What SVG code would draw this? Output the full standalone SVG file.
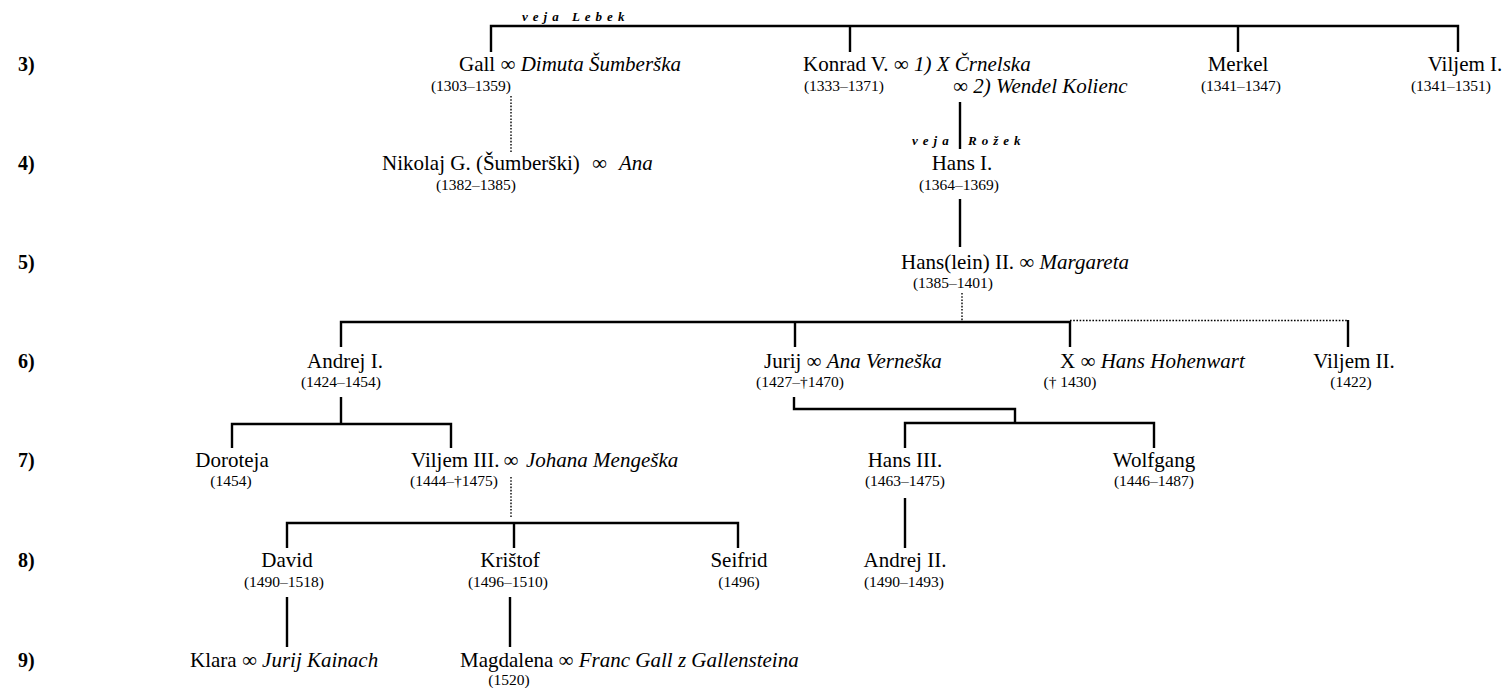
<svg xmlns="http://www.w3.org/2000/svg" width="1509" height="688" viewBox="0 0 1509 688">
<style>
text{font-family:"Liberation Serif","Times New Roman",serif;fill:#000}
.n{font-size:21px}
.i{font-style:italic}
.d{font-size:15.5px;text-anchor:middle}
.c{text-anchor:middle}
.lbl{font-size:20px;font-weight:bold}
.v{font-size:13px;font-weight:bold;font-style:italic;letter-spacing:5px}
.s{stroke:#000;stroke-width:2.4;fill:none}
.o{stroke:#000;stroke-width:1.4;fill:none;stroke-dasharray:1.6 1.6}
</style>
<rect width="1509" height="688" fill="#fff"/>
<g id="levels">
<text class="lbl" x="18" y="71">3)</text>
<text class="lbl" x="18" y="170">4)</text>
<text class="lbl" x="18" y="269">5)</text>
<text class="lbl" x="18" y="368">6)</text>
<text class="lbl" x="18" y="467">7)</text>
<text class="lbl" x="18" y="567">8)</text>
<text class="lbl" x="18" y="667">9)</text>
</g>
<g id="connectors">
<path class="s" d="M491,52V26H1458V52M850,26V52M1238,26V52"/>
<path class="o" d="M511,96V152"/>
<path class="s" d="M960,102V149"/>
<path class="s" d="M960,199V247"/>
<path class="o" d="M962,293V321"/>
<path class="s" d="M341,347V322H1070V347M795,322V347"/>
<path class="o" d="M1070,320.5H1348"/>
<path class="s" d="M1348,320V347"/>
<path class="s" d="M341,397V424M232,448V424H451V448"/>
<path class="s" d="M794,397V409H1015V423M905,448V423H1154V448"/>
<path class="o" d="M511,477V518"/>
<path class="s" d="M287,548V523H738V548M514,523V548"/>
<path class="s" d="M905,498V548"/>
<path class="s" d="M287,597V647M510,597V647"/>
<text class="v" x="522" y="21">veja Lebek</text>
<text class="v" x="912" y="145">veja</text>
<text class="v" x="968" y="145">Rožek</text>
</g>
<g id="gall">
<text class="n" x="459" y="71">Gall ∞ <tspan class="i">Dimuta Šumberška</tspan></text>
<text class="d" x="471" y="91">(1303–1359)</text>
</g>
<g id="konrad">
<text class="n" x="803" y="71">Konrad V. ∞ <tspan class="i">1) X Črnelska</tspan></text>
<text class="d" x="844" y="91">(1333–1371)</text>
<text class="n" x="953" y="93">∞ <tspan class="i">2) Wendel Kolienc</tspan></text>
</g>
<g id="merkel">
<text class="n c" x="1238" y="71">Merkel</text>
<text class="d" x="1241" y="91">(1341–1347)</text>
</g>
<g id="viljem1">
<text class="n c" x="1465" y="71">Viljem I.</text>
<text class="d" x="1451" y="91">(1341–1351)</text>
</g>
<g id="nikolaj">
<text class="n" x="382" y="170">Nikolaj G. (Šumberški)</text>
<text class="n" x="592" y="170">∞</text>
<text class="n i" x="619" y="170">Ana</text>
<text class="d" x="476" y="190">(1382–1385)</text>
</g>
<g id="hans1">
<text class="n c" x="962" y="170">Hans I.</text>
<text class="d" x="959" y="190">(1364–1369)</text>
</g>
<g id="hans2">
<text class="n" x="901" y="269">Hans(lein) II. ∞ <tspan class="i">Margareta</tspan></text>
<text class="d" x="953" y="288">(1385–1401)</text>
</g>
<g id="andrej1">
<text class="n c" x="345" y="368">Andrej I.</text>
<text class="d" x="341" y="387">(1424–1454)</text>
</g>
<g id="jurij">
<text class="n" x="764" y="368">Jurij ∞ <tspan class="i">Ana Verneška</tspan></text>
<text class="d" x="800" y="387">(1427–†1470)</text>
</g>
<g id="x">
<text class="n" x="1060" y="368">X ∞ <tspan class="i">Hans Hohenwart</tspan></text>
<text class="d" x="1070" y="387">(† 1430)</text>
</g>
<g id="viljem2">
<text class="n c" x="1354" y="368">Viljem II.</text>
<text class="d" x="1351" y="387">(1422)</text>
</g>
<g id="doroteja">
<text class="n c" x="232" y="467">Doroteja</text>
<text class="d" x="231" y="486">(1454)</text>
</g>
<g id="viljem3">
<text class="n" x="411" y="467">Viljem III.</text>
<text class="n c" x="511" y="467">∞</text>
<text class="n i" x="526" y="467">Johana Mengeška</text>
<text class="d" x="454" y="486">(1444–†1475)</text>
</g>
<g id="hans3">
<text class="n c" x="905" y="467">Hans III.</text>
<text class="d" x="905" y="486">(1463–1475)</text>
</g>
<g id="wolfgang">
<text class="n c" x="1154" y="467">Wolfgang</text>
<text class="d" x="1154" y="486">(1446–1487)</text>
</g>
<g id="david">
<text class="n c" x="287" y="567">David</text>
<text class="d" x="284" y="587">(1490–1518)</text>
</g>
<g id="kristof">
<text class="n c" x="510" y="567">Krištof</text>
<text class="d" x="508" y="587">(1496–1510)</text>
</g>
<g id="seifrid">
<text class="n c" x="739" y="567">Seifrid</text>
<text class="d" x="739" y="587">(1496)</text>
</g>
<g id="andrej2">
<text class="n c" x="905" y="567">Andrej II.</text>
<text class="d" x="904" y="587">(1490–1493)</text>
</g>
<g id="klara">
<text class="n" x="190" y="667">Klara ∞ <tspan class="i">Jurij Kainach</tspan></text>
</g>
<g id="magdalena">
<text class="n" x="460" y="667">Magdalena ∞ <tspan class="i">Franc Gall z Gallensteina</tspan></text>
<text class="d" x="509" y="685">(1520)</text>
</g>
</svg>
